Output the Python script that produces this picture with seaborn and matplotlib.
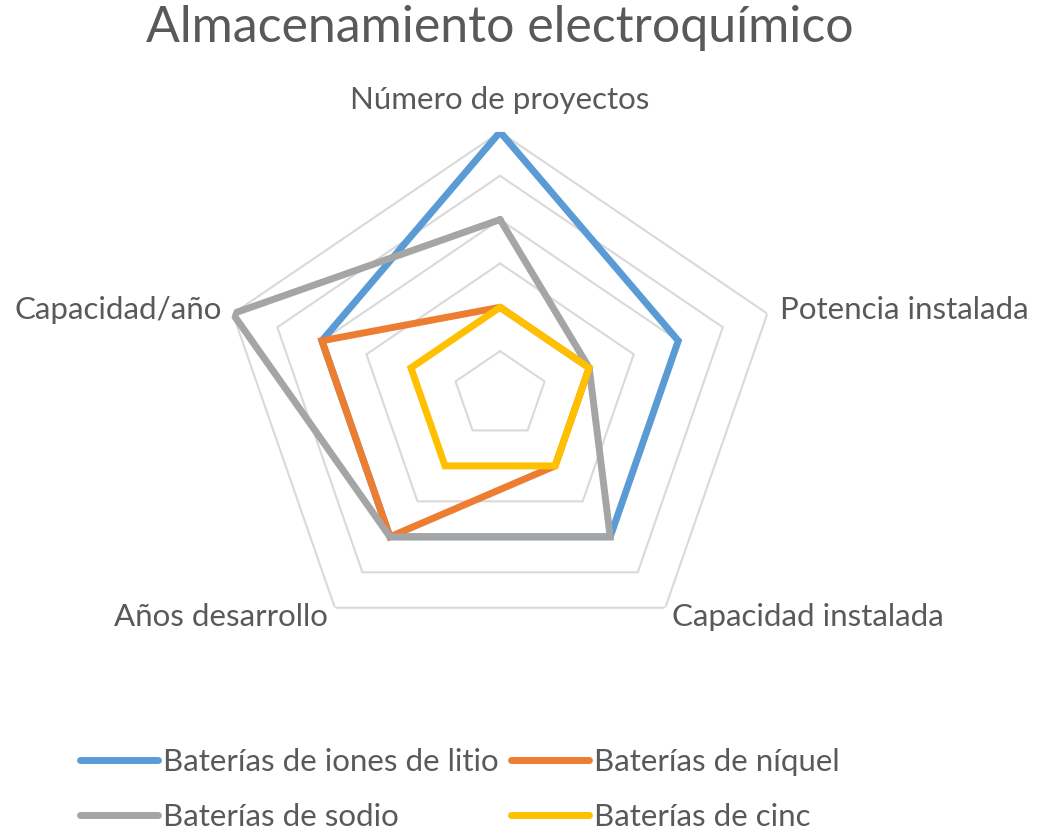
import numpy as np
import pandas as pd
import matplotlib
matplotlib.use('Agg')
import matplotlib.pyplot as plt
from matplotlib.lines import Line2D
import seaborn as sns

# data
ejes = ['Número de proyectos', 'Potencia instalada', 'Capacidad instalada',
        'Años desarrollo', 'Capacidad/año']
series = ['Baterías de iones de litio', 'Baterías de níquel',
          'Baterías de sodio', 'Baterías de cinc']
litio = [6, 4, 4, 4, 4]
niquel = [2, 2, 2, 4, 4]
sodio = [4, 2, 4, 4, 6]
cinc = [2, 2, 2, 2, 2]
niveles = [1, 2, 3, 4, 5, 6]

colores = ['#5B9BD5', '#ED7D31', '#A5A5A5', '#FFC000']
texto = '#595959'

sns.set_theme(style='white')
plt.rcParams['font.family'] = ['Lato', 'DejaVu Sans']

# long table, each polygon closed back on its first point
angulos = np.linspace(0, 2 * np.pi, len(ejes), endpoint=False)
ang_c = np.append(angulos, 2 * np.pi)
filas = []
for nombre, vals in zip(series, [litio, niquel, sodio, cinc]):
    for a, v in zip(ang_c, vals + vals[:1]):
        filas.append({'serie': nombre, 'theta': a, 'valor': v})
df = pd.DataFrame(filas)

fig = plt.figure(figsize=(10.39, 8.35), dpi=100)
ax = fig.add_axes([0.2108, 0.212, 0.541, 0.63], projection='polar')
ax.set_aspect('auto')
ax.set_theta_offset(np.pi / 2)
ax.set_theta_direction(-1)

# pentagon grid
for n in niveles:
    ax.plot(ang_c, [n] * len(ang_c), color='#D9D9D9', lw=1.5, zorder=1)

sns.lineplot(data=df, x='theta', y='valor', hue='serie', hue_order=series,
             palette=colores, sort=False, estimator=None, units='serie',
             lw=5, ax=ax, legend=False, zorder=3)
for ln in ax.get_lines()[len(niveles):]:
    ln.set_solid_joinstyle('miter')

ax.set_ylim(0, 6)
ax.set_xticks([])
ax.set_yticks([])
ax.grid(False)
ax.spines['polar'].set_visible(False)
ax.set_xlabel('')
ax.set_ylabel('')

# axis labels
pos = [(6.73, 'center'), (6.29, 'left'), (6.25, 'left'),
       (6.25, 'right'), (6.24, 'right')]
for a, lab, (r, ha) in zip(angulos, ejes, pos):
    ax.text(a, r, lab, ha=ha, va='center', fontsize=22.5, color=texto)

fig.text(0.481, 0.966, 'Almacenamiento electroquímico', ha='center', va='center',
         fontsize=36, color=texto)

orden = [0, 2, 1, 3]
handles = [Line2D([0], [0], color=colores[i], lw=5, solid_capstyle='round') for i in orden]
fig.legend(handles, [series[i] for i in orden], ncol=2, loc='upper left',
           bbox_to_anchor=(0.077, 0.104), frameon=False, fontsize=22.5,
           labelcolor=texto, handlelength=2.5, handletextpad=0.16,
           columnspacing=0.39, labelspacing=0.85, borderpad=0,
           borderaxespad=0)

fig.savefig('out.png', dpi=100)
